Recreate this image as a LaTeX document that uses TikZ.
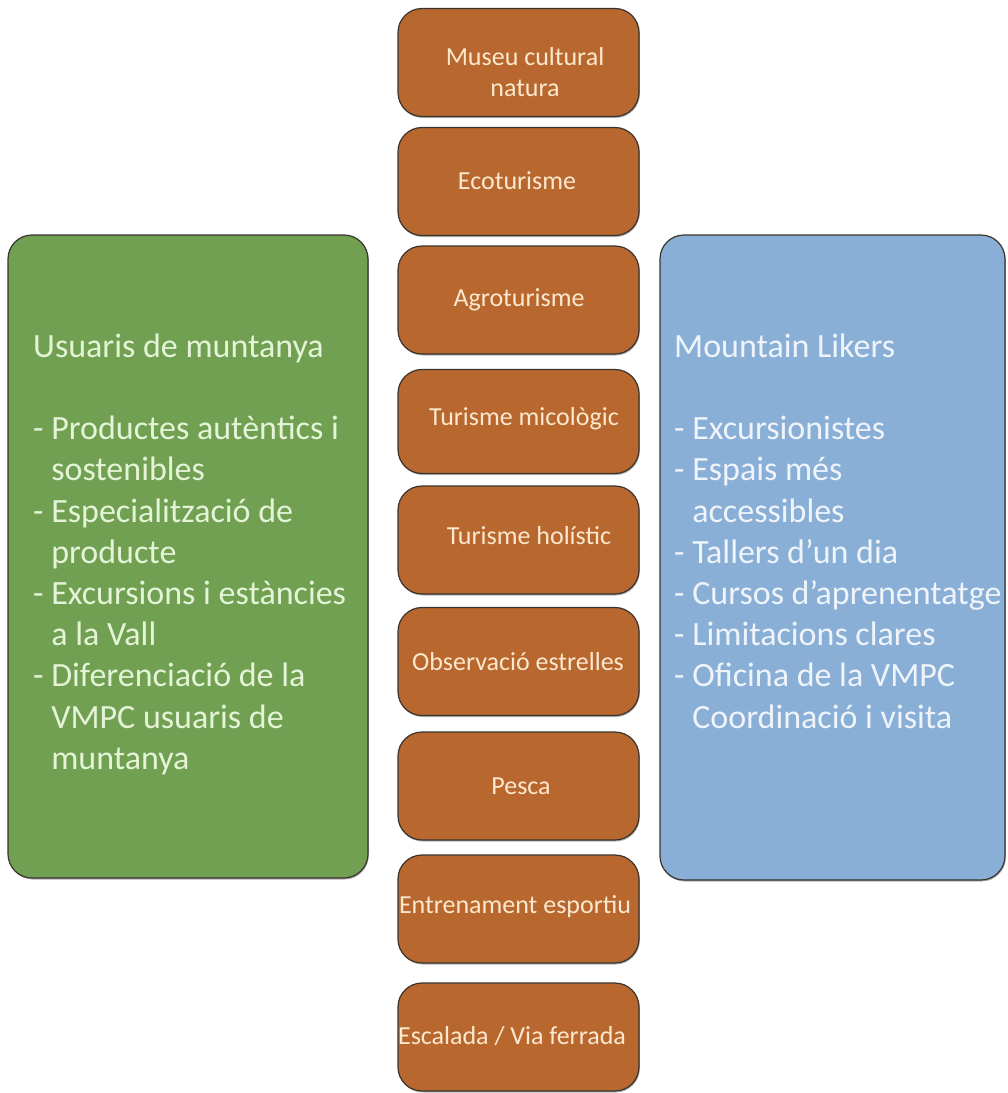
\documentclass[tikz,border=0pt]{standalone}
\usepackage{fontspec}
\setmainfont{Carlito}
\usetikzlibrary{shadows}
\definecolor{rust}{RGB}{184,104,47}
\definecolor{leaf}{RGB}{113,160,83}
\definecolor{sky}{RGB}{138,175,214}
\definecolor{edge}{RGB}{58,52,46}
\definecolor{cream}{RGB}{252,232,206}
\definecolor{mint}{RGB}{228,244,214}
\definecolor{frost}{RGB}{238,244,250}
\newcommand{\hang}{\phantom{- }}
% keep the font's own word spacing inside ragged-right nodes
\newcommand{\natspaces}{\spaceskip=0pt\xspaceskip=0pt\relax}
\begin{document}
\begin{tikzpicture}[x=1pt,y=-1pt,
  panel/.style={draw=edge, line width=1.2pt, rounded corners=24pt, inner sep=0pt,
    drop shadow={shadow xshift=0.8pt, shadow yshift=-1.5pt, opacity=0.3, fill=black}},
  activity/.style={panel, fill=rust, minimum width=241pt, minimum height=108pt},
  acttext/.style={text=cream, font=\fontsize{26}{31}\selectfont, align=center, inner sep=0pt},
  listtext/.style={anchor=north west, inner sep=0pt, text width=340pt, align=left,
    font=\fontsize{34}{41.2}\selectfont},
]
\useasboundingbox (0,0) rectangle (1008,1093);
\fill[white] (0,0) rectangle (1008,1093);

% side panels
\node[panel, fill=leaf, minimum width=360pt, minimum height=643pt] (users) at (188,556.5) {};
\node[panel, fill=sky, minimum width=345pt, minimum height=645pt] (likers) at (832.5,557.5) {};

\node[listtext, text=mint] (userstext) at (33,328.3) {\natspaces\strut Usuaris de muntanya\\[41.2pt]
- Productes autèntics i\\
\hang sostenibles\\
- Especialització de\\
\hang producte\\
- Excursions i estàncies\\
\hang a la Vall\\
- Diferenciació de la\\
\hang VMPC usuaris de\\
\hang muntanya};

\node[listtext, text=frost] (likerstext) at (674,328.3) {\natspaces\strut Mountain Likers\\[41.2pt]
- Excursionistes\\
- Espais més\\
\hang accessibles\\
- Tallers d’un dia\\
- Cursos d’aprenentatge\\
- Limitacions clares\\
- Oficina de la VMPC\\
\hang Coordinació i visita};

% column of activities
\node[activity] (a1) at (518.5,62.5) {};
\node[activity] (a2) at (518.5,181.5) {};
\node[activity] (a3) at (518.5,300) {};
\node[activity, minimum height=104pt] (a4) at (518.5,421.5) {};
\node[activity] (a5) at (518.5,540) {};
\node[activity] (a6) at (518.5,661.5) {};
\node[activity] (a7) at (518.5,786) {};
\node[activity] (a8) at (518.5,909) {};
\node[activity] (a9) at (518.5,1037) {};

\node[acttext] (t1) at (525,72) {Museu cultural\\natura};
\node[acttext] (t2) at (517,181) {Ecoturisme};
\node[acttext] (t3) at (519,300) {Agroturisme};
\node[acttext] (t4) at (524,419) {Turisme micològic};
\node[acttext] (t5) at (529,536) {Turisme holístic};
\node[acttext] (t6) at (518,662) {Observació estrelles};
\node[acttext] (t7) at (521,786) {Pesca};
\node[acttext] (t8) at (515,907) {Entrenament esportiu};
\node[acttext] (t9) at (512,1036) {Escalada / Via ferrada};
\end{tikzpicture}
\end{document}
